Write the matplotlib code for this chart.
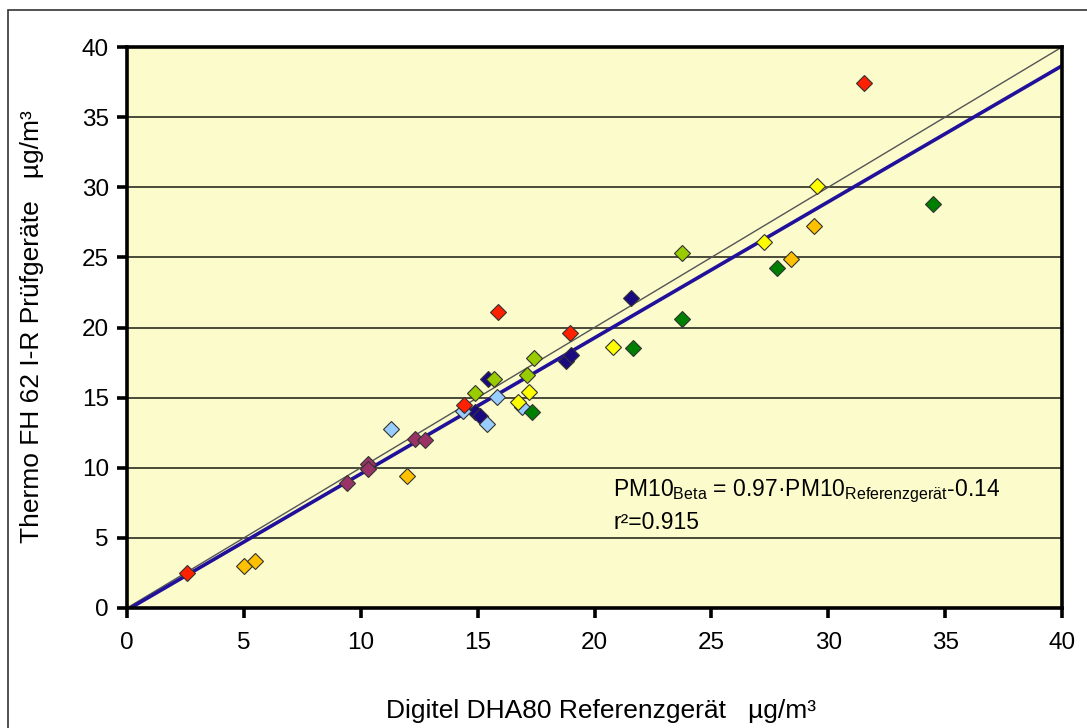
import matplotlib.pyplot as plt
import matplotlib.patches as mpatches
import numpy as np

plt.rcParams['font.family'] = ['Liberation Sans', 'DejaVu Sans']
plt.rcParams['mathtext.fontset'] = 'custom'
plt.rcParams['mathtext.rm'] = 'Liberation Sans'

# reference (x) and candidate (y) values, one group per colour
red_x = [2.57, 15.86, 18.95, 31.55, 14.4]
red_y = [2.50, 21.1, 19.6, 37.4, 14.5]
orange_x = [5.02, 5.49, 11.96, 29.37, 28.42]
orange_y = [3.0, 3.35, 9.41, 27.24, 24.88]
yellow_x = [29.5, 27.27, 20.8, 17.19, 16.72]
yellow_y = [30.1, 26.1, 18.6, 15.4, 14.69]
lgreen_x = [17.4, 17.1, 15.7, 14.88, 23.75]
lgreen_y = [17.83, 16.6, 16.33, 15.33, 25.3]
dgreen_x = [17.32, 21.65, 23.75, 27.8, 34.47]
dgreen_y = [13.97, 18.54, 20.6, 24.24, 28.8]
navy_x = [15.43, 14.9, 15.09, 18.8, 18.99, 21.56]
navy_y = [16.33, 14.0, 13.69, 17.6, 18.04, 22.1]
lblue_x = [11.28, 14.36, 15.82, 15.39, 16.89]
lblue_y = [12.76, 14.05, 15.04, 13.12, 14.33]
maroon_x = [9.43, 10.29, 10.33, 12.3, 12.73]
maroon_y = [8.91, 10.27, 9.91, 12.05, 11.98]

slope = 0.97
intercept = -0.14
r2 = 0.915

groups = [
    (navy_x, navy_y, '#1a0a80'),
    (maroon_x, maroon_y, '#993366'),
    (lblue_x, lblue_y, '#99ccff'),
    (orange_x, orange_y, '#ffc000'),
    (yellow_x, yellow_y, '#ffff00'),
    (lgreen_x, lgreen_y, '#99cc00'),
    (dgreen_x, dgreen_y, '#008000'),
    (red_x, red_y, '#ff2000'),
]

fig = plt.figure(figsize=(10.87, 7.28), dpi=100)
ax = fig.add_axes([127 / 1087, 1 - 608 / 728, 935 / 1087, 561 / 728])
ax.set_facecolor('#fbfbcb')

# outer frame of the chart area
frame = mpatches.Rectangle((8 / 1087, -0.1), 1.2, 1.1 - 10 / 728,
                           transform=fig.transFigure, fill=False,
                           edgecolor='#333333', linewidth=1.2)
fig.patches.append(frame)

ax.set_xlim(0, 40)
ax.set_ylim(0, 40)
ax.set_xticks(np.arange(0, 41, 5))
ax.set_yticks(np.arange(0, 41, 5))
ax.yaxis.grid(True, color='#4a4a3a', linewidth=1.4)
ax.set_axisbelow(True)
for s in ax.spines.values():
    s.set_linewidth(2.6)
    s.set_color('black')
ax.tick_params(axis='both', direction='out', length=7, width=2.6,
               labelsize=17.5, colors='black', pad=6)
ax.tick_params(axis='x', pad=10)

# 1:1 line and regression line
xx = np.array([0, 40])
ax.plot(xx, xx, color='#555555', linewidth=1.0, zorder=2)
ax.plot(xx, slope * xx + intercept, color='#20109a', linewidth=2.6, zorder=2)

for gx, gy, c in groups:
    ax.plot(gx, gy, linestyle='none', marker='D', markersize=8.5,
            markerfacecolor=c, markeredgecolor='#333333',
            markeredgewidth=0.8, zorder=3)

ax.text(20.8, 8.3,
        r'PM10$_{\mathrm{Beta}}$ = 0.97·PM10$_{\mathrm{Referenzgerät}}$-0.14',
        fontsize=16.5, va='center', ha='left')
ax.text(20.8, 6.1, 'r²=' + f'{r2:.3f}', fontsize=16.5, va='center', ha='left')

fig.text(601 / 1087, 1 - 711 / 728, 'Digitel DHA80 Referenzgerät   µg/m³',
         fontsize=19, ha='center', va='center')
fig.text(32 / 1087, 1 - 327 / 728, 'Thermo FH 62 I-R Prüfgeräte   µg/m³',
         fontsize=19, ha='center', va='center', rotation=90)

fig.savefig('out.png', dpi=100)
